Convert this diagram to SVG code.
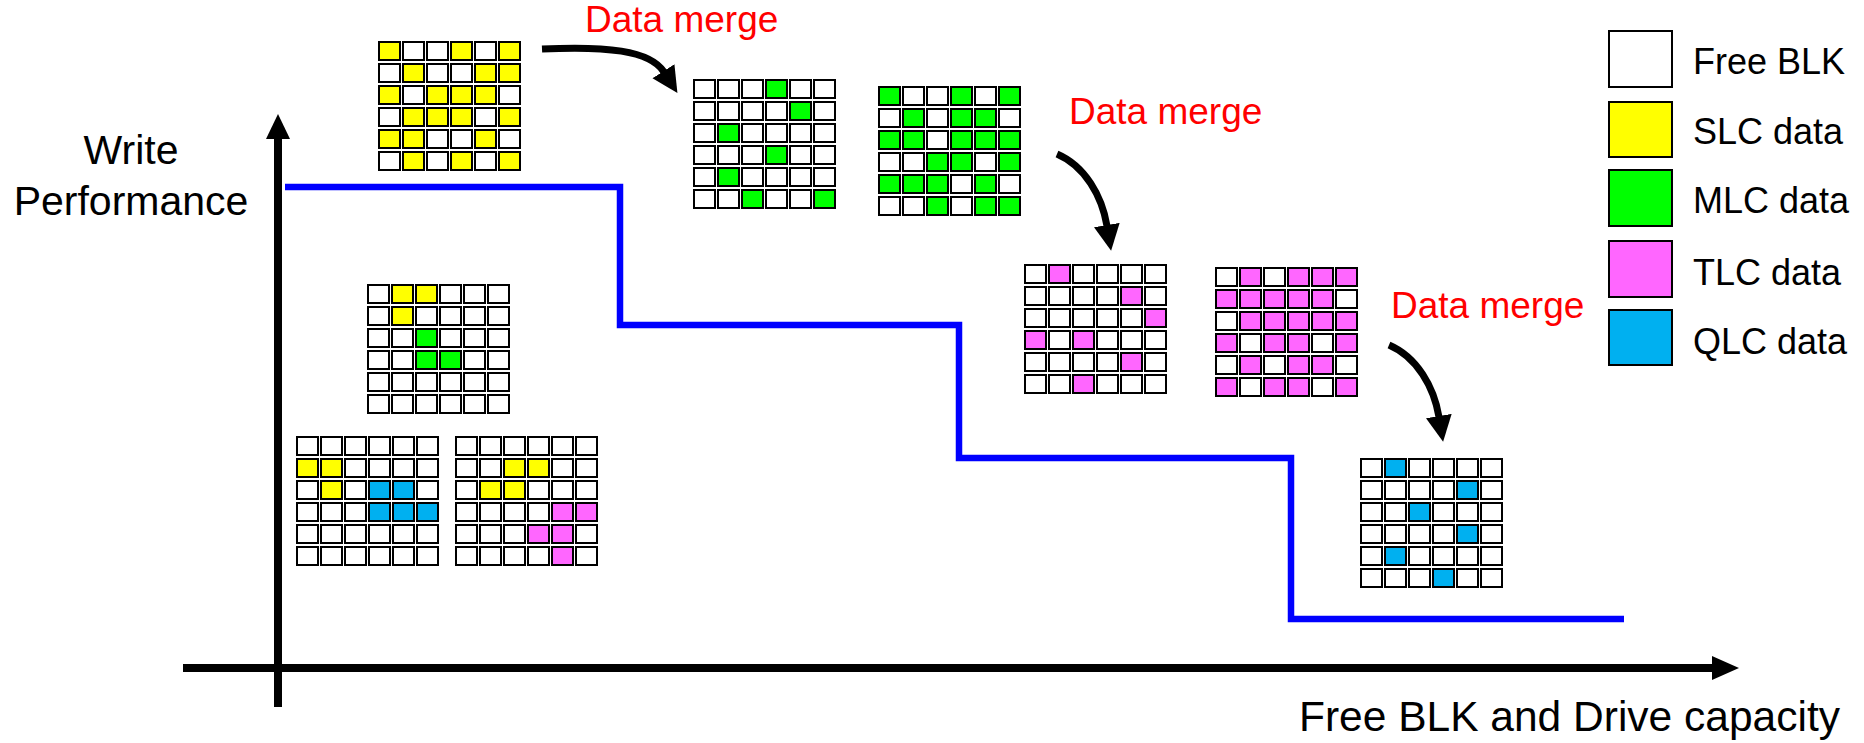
<svg xmlns="http://www.w3.org/2000/svg" xmlns:xlink="http://www.w3.org/1999/xlink" width="1864" height="743" viewBox="0 0 1864 743">
  <style>
    text { font-family: "Liberation Sans", Arial, sans-serif; fill: #000; }
    .lbl { font-size: 41px; }
    .leg { font-size: 36px; }
    .merge { font-size: 37px; fill: #FF0000; }
    .cells use, .key rect { stroke: #000; stroke-width: 2; }
    .w { fill: #FFFFFF; }
    .y { fill: #FFFF00; }
    .g { fill: #00FF00; }
    .p { fill: #FF66FF; }
    .b { fill: #00B0F0; }
    .axis { stroke: #000; stroke-width: 8; fill: none; }
    .perf { stroke: #0000FF; stroke-width: 6.5; fill: none; }
    .flow { stroke: #000; stroke-width: 7; fill: none; marker-end: url(#head); }
  </style>
  <defs>
    <rect id="cell" width="21" height="18"/>
    <marker id="head" markerUnits="userSpaceOnUse" markerWidth="28" markerHeight="30" refX="1" refY="15" orient="auto" viewBox="0 0 28 30">
      <path d="M0,2 L26,15 L0,28 z" fill="#000"/>
    </marker>
    <!-- 6 x 6 block of free cells -->
    <g id="blank" class="w">
      <use href="#cell" x="1" y="1"/><use href="#cell" x="25" y="1"/><use href="#cell" x="49" y="1"/><use href="#cell" x="73" y="1"/><use href="#cell" x="97" y="1"/><use href="#cell" x="121" y="1"/>
      <use href="#cell" x="1" y="23"/><use href="#cell" x="25" y="23"/><use href="#cell" x="49" y="23"/><use href="#cell" x="73" y="23"/><use href="#cell" x="97" y="23"/><use href="#cell" x="121" y="23"/>
      <use href="#cell" x="1" y="45"/><use href="#cell" x="25" y="45"/><use href="#cell" x="49" y="45"/><use href="#cell" x="73" y="45"/><use href="#cell" x="97" y="45"/><use href="#cell" x="121" y="45"/>
      <use href="#cell" x="1" y="67"/><use href="#cell" x="25" y="67"/><use href="#cell" x="49" y="67"/><use href="#cell" x="73" y="67"/><use href="#cell" x="97" y="67"/><use href="#cell" x="121" y="67"/>
      <use href="#cell" x="1" y="89"/><use href="#cell" x="25" y="89"/><use href="#cell" x="49" y="89"/><use href="#cell" x="73" y="89"/><use href="#cell" x="97" y="89"/><use href="#cell" x="121" y="89"/>
      <use href="#cell" x="1" y="111"/><use href="#cell" x="25" y="111"/><use href="#cell" x="49" y="111"/><use href="#cell" x="73" y="111"/><use href="#cell" x="97" y="111"/><use href="#cell" x="121" y="111"/>
    </g>
  </defs>

  <rect width="1864" height="743" fill="#FFFFFF"/>

  <!-- axes -->
  <g id="axes">
    <line class="axis" x1="278" y1="707" x2="278" y2="136"/>
    <polygon points="266,139 278,114 290,139" fill="#000"/>
    <line class="axis" x1="183" y1="668" x2="1714" y2="668"/>
    <polygon points="1712,656 1739,668 1712,680" fill="#000"/>
    <text class="lbl" x="131" y="164" text-anchor="middle">Write</text>
    <text class="lbl" x="131" y="215" text-anchor="middle">Performance</text>
    <text class="lbl" x="1299" y="731" style="font-size:42.5px">Free BLK and Drive capacity</text>
  </g>

  <!-- write performance staircase -->
  <g id="performance">
    <polyline class="perf" points="285,187 620,187 620,325 959,325 959,458 1291,458 1291,619 1624,619"/>
  </g>

  <!-- block maps -->
  <g id="slc-block" class="cells" transform="translate(378,41)">
    <use href="#blank"/>
    <g class="y">
      <use href="#cell" x="1" y="1"/><use href="#cell" x="73" y="1"/><use href="#cell" x="121" y="1"/>
      <use href="#cell" x="25" y="23"/><use href="#cell" x="97" y="23"/><use href="#cell" x="121" y="23"/>
      <use href="#cell" x="1" y="45"/><use href="#cell" x="49" y="45"/><use href="#cell" x="73" y="45"/><use href="#cell" x="97" y="45"/>
      <use href="#cell" x="25" y="67"/><use href="#cell" x="49" y="67"/><use href="#cell" x="73" y="67"/><use href="#cell" x="121" y="67"/>
      <use href="#cell" x="1" y="89"/><use href="#cell" x="25" y="89"/><use href="#cell" x="97" y="89"/>
      <use href="#cell" x="25" y="111"/><use href="#cell" x="73" y="111"/><use href="#cell" x="121" y="111"/>
    </g>
  </g>

  <g id="mlc-sparse" class="cells" transform="translate(693,79)">
    <use href="#blank"/>
    <g class="g">
      <use href="#cell" x="73" y="1"/>
      <use href="#cell" x="97" y="23"/>
      <use href="#cell" x="25" y="45"/>
      <use href="#cell" x="73" y="67"/>
      <use href="#cell" x="25" y="89"/>
      <use href="#cell" x="49" y="111"/><use href="#cell" x="121" y="111"/>
    </g>
  </g>

  <g id="mlc-dense" class="cells" transform="translate(878,86)">
    <use href="#blank"/>
    <g class="g">
      <use href="#cell" x="1" y="1"/><use href="#cell" x="73" y="1"/><use href="#cell" x="121" y="1"/>
      <use href="#cell" x="25" y="23"/><use href="#cell" x="73" y="23"/><use href="#cell" x="97" y="23"/>
      <use href="#cell" x="1" y="45"/><use href="#cell" x="25" y="45"/><use href="#cell" x="73" y="45"/><use href="#cell" x="97" y="45"/><use href="#cell" x="121" y="45"/>
      <use href="#cell" x="49" y="67"/><use href="#cell" x="73" y="67"/><use href="#cell" x="121" y="67"/>
      <use href="#cell" x="1" y="89"/><use href="#cell" x="25" y="89"/><use href="#cell" x="49" y="89"/><use href="#cell" x="97" y="89"/>
      <use href="#cell" x="49" y="111"/><use href="#cell" x="97" y="111"/><use href="#cell" x="121" y="111"/>
    </g>
  </g>

  <g id="tlc-sparse" class="cells" transform="translate(1024,264)">
    <use href="#blank"/>
    <g class="p">
      <use href="#cell" x="25" y="1"/>
      <use href="#cell" x="97" y="23"/>
      <use href="#cell" x="121" y="45"/>
      <use href="#cell" x="1" y="67"/><use href="#cell" x="49" y="67"/>
      <use href="#cell" x="97" y="89"/>
      <use href="#cell" x="49" y="111"/>
    </g>
  </g>

  <g id="tlc-dense" class="cells" transform="translate(1215,267)">
    <use href="#blank"/>
    <g class="p">
      <use href="#cell" x="25" y="1"/><use href="#cell" x="73" y="1"/><use href="#cell" x="97" y="1"/><use href="#cell" x="121" y="1"/>
      <use href="#cell" x="1" y="23"/><use href="#cell" x="25" y="23"/><use href="#cell" x="49" y="23"/><use href="#cell" x="73" y="23"/><use href="#cell" x="97" y="23"/>
      <use href="#cell" x="25" y="45"/><use href="#cell" x="49" y="45"/><use href="#cell" x="73" y="45"/><use href="#cell" x="97" y="45"/><use href="#cell" x="121" y="45"/>
      <use href="#cell" x="1" y="67"/><use href="#cell" x="49" y="67"/><use href="#cell" x="73" y="67"/><use href="#cell" x="121" y="67"/>
      <use href="#cell" x="25" y="89"/><use href="#cell" x="73" y="89"/><use href="#cell" x="97" y="89"/>
      <use href="#cell" x="1" y="111"/><use href="#cell" x="49" y="111"/><use href="#cell" x="73" y="111"/><use href="#cell" x="121" y="111"/>
    </g>
  </g>

  <g id="qlc-block" class="cells" transform="translate(1360,458)">
    <use href="#blank"/>
    <g class="b">
      <use href="#cell" x="25" y="1"/>
      <use href="#cell" x="97" y="23"/>
      <use href="#cell" x="49" y="45"/>
      <use href="#cell" x="97" y="67"/>
      <use href="#cell" x="25" y="89"/>
      <use href="#cell" x="73" y="111"/>
    </g>
  </g>

  <g id="mixed-slc-mlc" class="cells" transform="translate(367,284)">
    <use href="#blank"/>
    <g class="y">
      <use href="#cell" x="25" y="1"/><use href="#cell" x="49" y="1"/>
      <use href="#cell" x="25" y="23"/>
    </g>
    <g class="g">
      <use href="#cell" x="49" y="45"/>
      <use href="#cell" x="49" y="67"/><use href="#cell" x="73" y="67"/>
    </g>
  </g>

  <g id="mixed-slc-qlc" class="cells" transform="translate(296,436)">
    <use href="#blank"/>
    <g class="y">
      <use href="#cell" x="1" y="23"/><use href="#cell" x="25" y="23"/>
      <use href="#cell" x="25" y="45"/>
    </g>
    <g class="b">
      <use href="#cell" x="73" y="45"/><use href="#cell" x="97" y="45"/>
      <use href="#cell" x="73" y="67"/><use href="#cell" x="97" y="67"/><use href="#cell" x="121" y="67"/>
    </g>
  </g>

  <g id="mixed-slc-tlc" class="cells" transform="translate(455,436)">
    <use href="#blank"/>
    <g class="y">
      <use href="#cell" x="49" y="23"/><use href="#cell" x="73" y="23"/>
      <use href="#cell" x="25" y="45"/><use href="#cell" x="49" y="45"/>
    </g>
    <g class="p">
      <use href="#cell" x="97" y="67"/><use href="#cell" x="121" y="67"/>
      <use href="#cell" x="73" y="89"/><use href="#cell" x="97" y="89"/>
      <use href="#cell" x="97" y="111"/>
    </g>
  </g>

  <!-- merge steps -->
  <g id="connectors">
    <path class="flow" d="M542,49 C605,46 650,50 664,72"/>
    <path class="flow" d="M1057,154 C1085,166 1102,196 1107,226"/>
    <path class="flow" d="M1389,345 C1417,357 1434,387 1439,417"/>
  </g>
  <g id="merge-labels">
    <text class="merge" x="585" y="32">Data merge</text>
    <text class="merge" x="1069" y="124">Data merge</text>
    <text class="merge" x="1391" y="318">Data merge</text>
  </g>

  <!-- legend -->
  <g id="legend" class="key">
    <rect class="w" x="1609" y="31" width="63" height="56"/>
    <rect class="y" x="1609" y="102" width="63" height="55"/>
    <rect class="g" x="1609" y="170" width="63" height="56"/>
    <rect class="p" x="1609" y="241" width="63" height="56"/>
    <rect class="b" x="1609" y="310" width="63" height="55"/>
    <text class="leg" x="1693" y="74">Free BLK</text>
    <text class="leg" x="1693" y="144">SLC data</text>
    <text class="leg" x="1693" y="213">MLC data</text>
    <text class="leg" x="1693" y="285">TLC data</text>
    <text class="leg" x="1693" y="354">QLC data</text>
  </g>
</svg>
